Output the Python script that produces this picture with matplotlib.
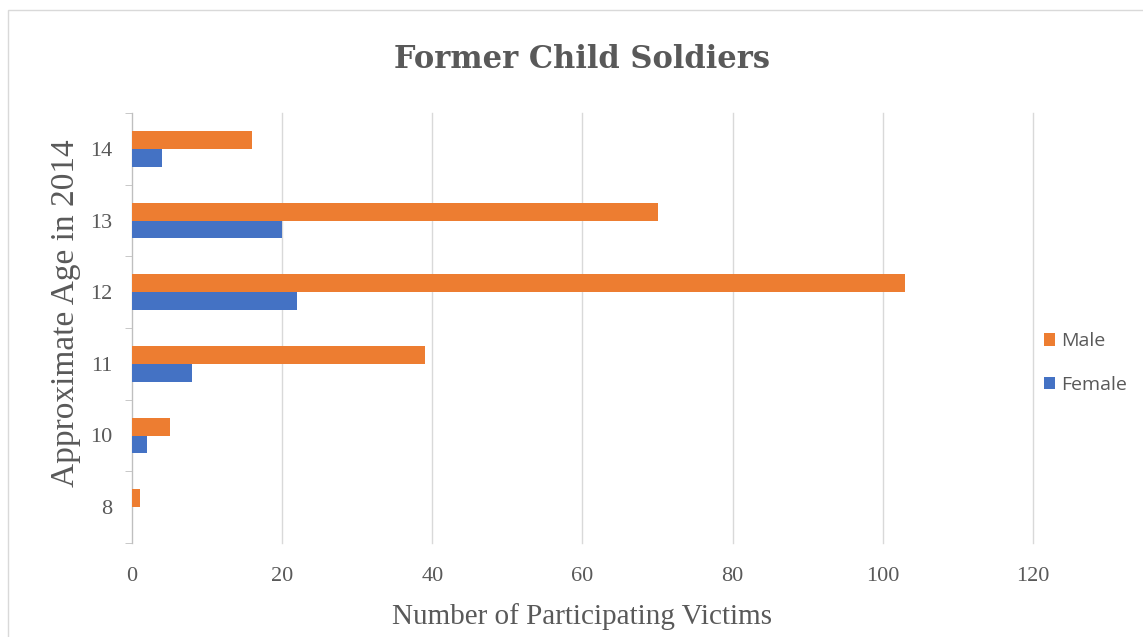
import numpy as np
import matplotlib.pyplot as plt
from matplotlib.patches import Rectangle

# DATA
ages = ["8", "10", "11", "12", "13", "14"]
male = [1, 5, 39, 103, 70, 16]
female = [0, 2, 8, 22, 20, 4]
x_ticks = [0, 20, 40, 60, 80, 100, 120]

# FIGURE
fig = plt.figure(figsize=(11.43, 6.37), dpi=100)
ax = fig.add_axes([132 / 1143, 1 - 543 / 637, 901 / 1143, 430 / 637])

# chart border
fig.patches.append(Rectangle((8 / 1143, -0.01), 1.2, 1 - 10 / 637 + 0.01,
                             transform=fig.transFigure, fill=False,
                             edgecolor="#d9d9d9", linewidth=1.0))

y_pos = np.arange(len(ages))
bar_h = 0.25
ax.barh(y_pos + bar_h / 2, male, height=bar_h, color="#ED7D31", label="Male", zorder=3)
ax.barh(y_pos - bar_h / 2, female, height=bar_h, color="#4472C4", label="Female", zorder=3)

ax.set_xlim(0, 120)
ax.set_ylim(-0.5, len(ages) - 0.5)
ax.set_xticks(x_ticks)
ax.set_yticks(y_pos)
ax.set_yticklabels(ages)
ax.set_yticks(np.arange(len(ages) + 1) - 0.5, minor=True)

ax.grid(axis="x", color="#d9d9d9", linewidth=1.0, zorder=0)
for gl in ax.get_xgridlines():
    gl.set_clip_on(False)
for s in ["top", "right", "bottom"]:
    ax.spines[s].set_visible(False)
ax.spines["left"].set_color("#bfbfbf")
ax.tick_params(axis="x", length=0, pad=17, labelsize=16, labelcolor="#595959")
ax.tick_params(axis="y", which="major", length=0, pad=14, labelsize=16, labelcolor="#595959")
ax.tick_params(axis="y", which="minor", length=5, color="#bfbfbf")
for lab in ax.get_xticklabels() + ax.get_yticklabels():
    lab.set_family("Liberation Serif")

fig.text(582 / 1143, 1 - 60 / 637, "Former Child Soldiers", ha="center", va="center",
         fontsize=22, fontweight="bold", color="#595959", family="DejaVu Serif")
fig.text(582 / 1143, 1 - 617 / 637, "Number of Participating Victims", ha="center", va="center",
         fontsize=21, color="#595959", family="Liberation Serif")
fig.text(66 / 1143, 1 - 313 / 637, "Approximate Age in 2014", ha="center", va="center",
         rotation=90, fontsize=24, color="#595959", family="Liberation Serif")

handles, labels = ax.get_legend_handles_labels()
fig.legend(handles, labels, loc="center left", bbox_to_anchor=(1026 / 1143, 1 - 363 / 637),
           frameon=False, handlelength=0.6, handleheight=0.6,
           handletextpad=0.3, labelspacing=1.3, labelcolor="#595959",
           prop={"family": "Open Sans", "size": 14})

fig.savefig("out.png", dpi=100)
